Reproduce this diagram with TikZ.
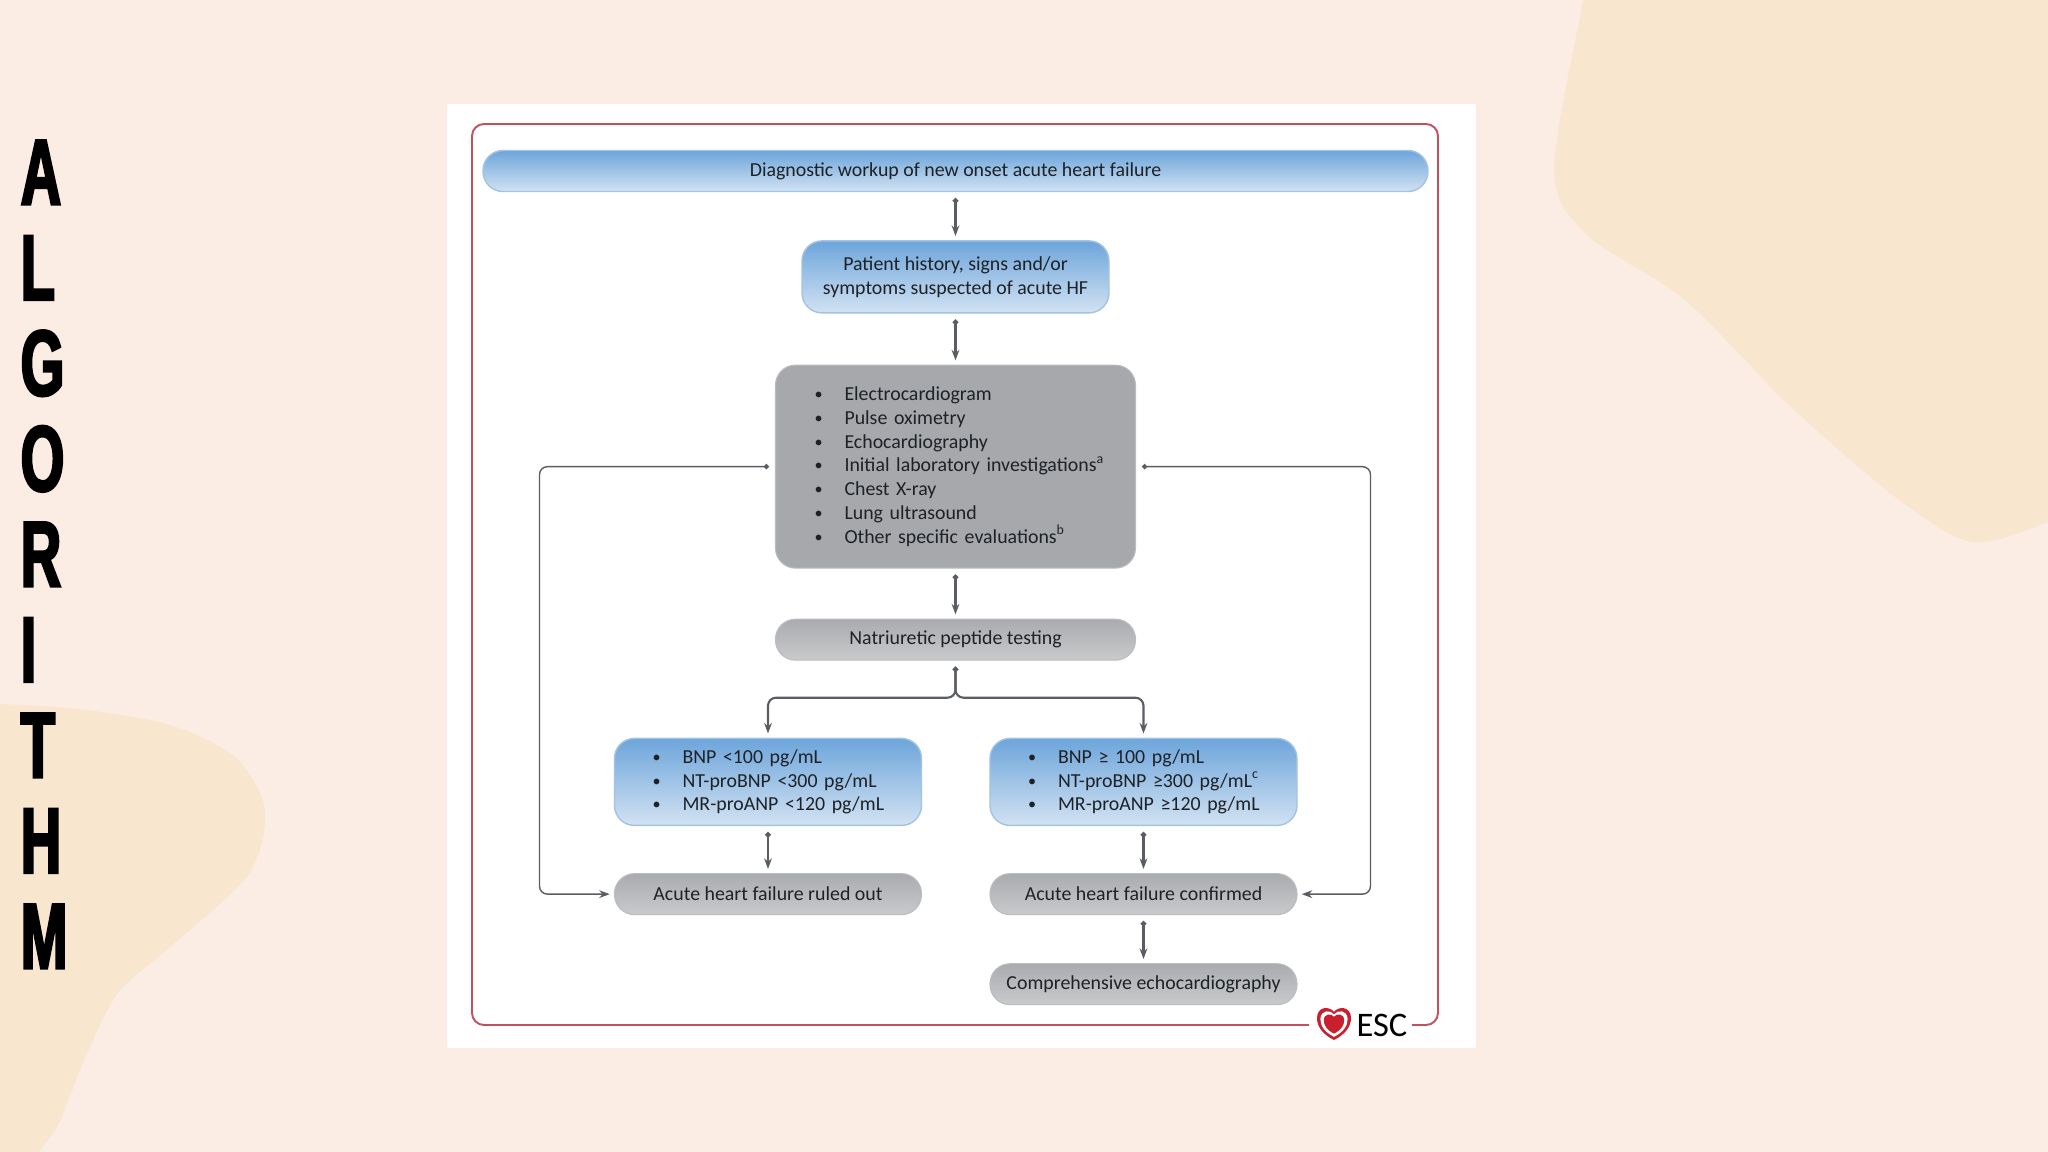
\documentclass[tikz,border=0pt]{standalone}
\usepackage{fontspec}
\setmainfont{Carlito}
\newfontfamily\algofont[FakeStretch=0.6,BoldFeatures={FakeBold=2.5}]{Liberation Sans}
\usetikzlibrary{positioning, arrows.meta}

\definecolor{pagebg}{HTML}{FBEDE3}
\definecolor{blobbg}{HTML}{F9E6CF}
\definecolor{framered}{HTML}{C4505F}
\definecolor{linegrey}{HTML}{5A5D61}
\definecolor{textdark}{HTML}{1E2226}
\definecolor{escred}{HTML}{C8202C}
\definecolor{bluetop}{HTML}{6DA5DB}
\definecolor{bluebot}{HTML}{D2E2F2}
\definecolor{blueline}{HTML}{A3C3E2}
\definecolor{greytop}{HTML}{A9ABAE}
\definecolor{greybot}{HTML}{C9CACC}
\definecolor{greylist}{HTML}{A6A8AB}

\newcommand{\bul}[1]{\mbox{\makebox[0.3cm][l]{\raisebox{0.3pt}{\fontsize{4.6}{4.6}\selectfont\textbullet}}#1}}

\begin{document}
\begin{tikzpicture}[
    bluebox/.style={
        rectangle, rounded corners=0.2cm,
        draw=blueline, line width=0.4pt,
        top color=bluetop, bottom color=bluebot,
        text=textdark, align=center, inner sep=0pt,
        font=\fontsize{5.65}{6.75}\selectfont
    },
    greybox/.style={
        rectangle, rounded corners=0.2cm,
        draw=greytop!80, line width=0.3pt,
        top color=greytop, bottom color=greybot,
        text=textdark, align=center, inner sep=0pt,
        font=\fontsize{5.65}{6.75}\selectfont
    },
    flow/.style={
        draw=linegrey, line width=0.6pt,
        {Circle[length=1.5pt]}-{Stealth[length=3pt,width=2.2pt]},
        shorten <=1.7pt, shorten >=1.2pt
    },
    loopline/.style={flow, line width=0.4pt, rounded corners=0.08cm},
    algoletter/.style={
        anchor=base west, inner sep=0pt, text=black,
        font=\algofont\bfseries\fontsize{26.6}{26.6}\selectfont
    }
]
\useasboundingbox (0,0) rectangle (20.48,-11.52);
\fill[pagebg] (0,0) rectangle (20.48,-11.52);

% background blobs
\fill[blobbg] plot[smooth] coordinates {(15.83,0.2) (15.83,0) (15.54,-1.70) (15.87,-2.35)
    (16.85,-3.00) (17.89,-4.05) (18.94,-4.96) (19.72,-5.42) (20.48,-5.22) (20.7,-5.1)}
    -- (20.7,0.2) -- cycle;
\fill[blobbg] plot[smooth] coordinates {(-0.2,-7.03) (0.78,-7.09) (1.70,-7.25) (2.35,-7.57)
    (2.65,-8.10) (2.48,-8.75) (1.70,-9.47) (1.18,-9.93) (0.85,-10.58) (0.59,-11.23) (0.39,-11.52) (0.3,-11.7)}
    -- (-0.2,-11.7) -- cycle;

\foreach \ltr [count=\i from 0] in {A,L,G,O,R,I,T,H,M}
    \node[algoletter] (algo\i) at (0.2,-2.045-\i*0.955) {\ltr};

% panel and frame
\fill[white] (4.47,-1.04) rectangle (14.76,-10.48);
\draw[framered, line width=0.55pt, rounded corners=0.12cm]
    (13.09,-10.25) -- (4.72,-10.25) -- (4.72,-1.24) -- (14.38,-1.24) -- (14.38,-10.25) -- (14.12,-10.25);

% boxes
\node[bluebox, minimum width=9.45cm, minimum height=0.41cm] (workup) at (9.555,-1.71)
    {Diagnostic workup of new onset acute heart failure};
\node[bluebox, minimum width=3.07cm, minimum height=0.72cm, below=0.48cm of workup] (history)
    {Patient history, signs and/or\\symptoms suspected of acute HF};
\node[greybox, align=left, text width=2.82cm, minimum width=3.6cm, minimum height=2.03cm,
    below=0.51cm of history, top color=greylist, bottom color=greylist] (exams)
    {\bul{Electrocardiogram}\\\bul{Pulse oximetry}\\\bul{Echocardiography}\\
     \bul{Initial laboratory investigations\textsuperscript{a}}\\\bul{Chest X-ray}\\
     \bul{Lung ultrasound}\\\bul{Other specific evaluations\textsuperscript{b}}};
\node[greybox, minimum width=3.6cm, minimum height=0.41cm, below=0.5cm of exams] (natri)
    {Natriuretic peptide testing};
\node[bluebox, align=left, text width=2.31cm, minimum width=3.07cm, minimum height=0.87cm,
    below=0.77cm of natri, xshift=-1.875cm] (bnplow)
    {\bul{BNP <100 pg/mL}\\\bul{NT-proBNP <300 pg/mL}\\\bul{MR-proANP <120 pg/mL}};
\node[bluebox, align=left, text width=2.31cm, minimum width=3.07cm, minimum height=0.87cm,
    below=0.77cm of natri, xshift=1.88cm] (bnphigh)
    {\bul{BNP ≥ 100 pg/mL}\\\bul{NT-proBNP ≥300 pg/mL\textsuperscript{c}}\\\bul{MR-proANP ≥120 pg/mL}};
\node[greybox, minimum width=3.07cm, minimum height=0.41cm, below=0.47cm of bnplow] (ruled)
    {Acute heart failure ruled out};
\node[greybox, minimum width=3.07cm, minimum height=0.41cm, below=0.47cm of bnphigh] (confirmed)
    {Acute heart failure confirmed};
\node[greybox, minimum width=3.07cm, minimum height=0.41cm, below=0.48cm of confirmed] (echo)
    {Comprehensive echocardiography};

% logo
\begin{scope}[shift={(13.34,-10.24)}]
\foreach \s/\c in {1/escred, 0.8/white, 0.6/escred}
    \fill[\c, scale=\s] (0,-0.16) .. controls (-0.12,-0.1) and (-0.17,-0.02) .. (-0.17,0.06)
        .. controls (-0.17,0.18) and (-0.04,0.18) .. (0,0.12)
        .. controls (0.04,0.18) and (0.17,0.18) .. (0.17,0.06)
        .. controls (0.17,-0.02) and (0.12,-0.1) .. (0,-0.16) -- cycle;
\end{scope}
\node[text=black, inner sep=0pt, font=\fontsize{9.8}{9.8}\selectfont] (esc) at (13.82,-10.25) {ESC};

% connectors
\draw[flow] (workup) -- (history);
\draw[flow] (history) -- (exams);
\draw[flow] (exams) -- (natri);
\draw[flow] (bnplow) -- (ruled);
\draw[flow] (bnphigh) -- (confirmed);
\draw[flow] (confirmed) -- (echo);

\coordinate[below=0.37cm of natri.south] (split);
\draw[flow, rounded corners=0.08cm] (natri.south) -- (split) -| (bnplow.north);
\draw[flow, rounded corners=0.08cm] (natri.south) -- (split) -| (bnphigh.north);

\coordinate (leftbend) at (5.395,-6.8);
\coordinate (rightbend) at (13.705,-6.8);
\draw[loopline] (exams.west) -| (leftbend) |- (ruled.west);
\draw[loopline] (exams.east) -| (rightbend) |- (confirmed.east);

\end{tikzpicture}
\end{document}
